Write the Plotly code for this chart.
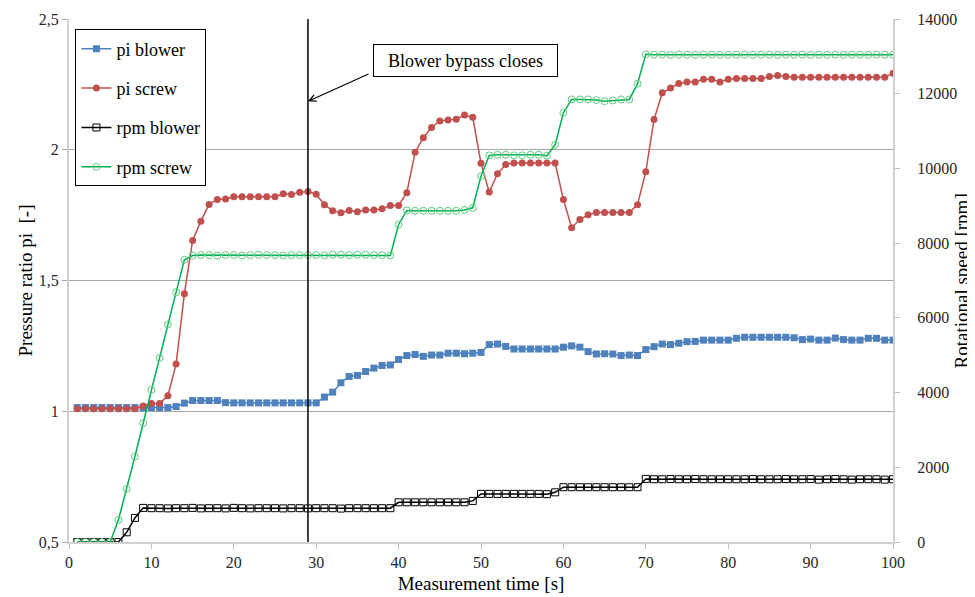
import plotly.graph_objects as go

# ---------------- data ----------------
time_s = list(range(1, 101))

pi_blower = [
    1.014, 1.014, 1.014, 1.014, 1.014, 1.014, 1.014, 1.014, 1.014, 1.014,   # 1-10
    1.014, 1.014, 1.018, 1.031, 1.041, 1.041, 1.041, 1.041, 1.033, 1.032,   # 11-20
    1.032, 1.032, 1.032, 1.032, 1.032, 1.032, 1.032, 1.032, 1.032, 1.032,   # 21-30
    1.054, 1.073, 1.109, 1.133, 1.137, 1.152, 1.165, 1.175, 1.177, 1.198,   # 31-40
    1.213, 1.217, 1.210, 1.215, 1.215, 1.222, 1.222, 1.220, 1.222, 1.225,   # 41-50
    1.255, 1.257, 1.248, 1.238, 1.238, 1.238, 1.238, 1.238, 1.238, 1.245,   # 51-60
    1.250, 1.245, 1.228, 1.219, 1.220, 1.219, 1.213, 1.215, 1.213, 1.236,   # 61-70
    1.247, 1.257, 1.255, 1.260, 1.266, 1.267, 1.272, 1.272, 1.272, 1.272,   # 71-80
    1.279, 1.283, 1.283, 1.283, 1.283, 1.283, 1.283, 1.281, 1.274, 1.276,   # 81-90
    1.272, 1.272, 1.280, 1.274, 1.272, 1.272, 1.279, 1.279, 1.272, 1.272,   # 91-100
]

pi_screw = [
    1.010, 1.010, 1.010, 1.010, 1.010, 1.010, 1.010, 1.010, 1.020, 1.030,   # 1-10
    1.030, 1.059, 1.181, 1.449, 1.653, 1.727, 1.791, 1.810, 1.812, 1.820,   # 11-20
    1.820, 1.820, 1.820, 1.820, 1.820, 1.832, 1.829, 1.837, 1.840, 1.830,   # 21-30
    1.790, 1.767, 1.759, 1.768, 1.763, 1.770, 1.770, 1.774, 1.787, 1.787,   # 31-40
    1.836, 1.990, 2.046, 2.085, 2.110, 2.114, 2.117, 2.133, 2.124, 1.948,   # 41-50
    1.838, 1.908, 1.944, 1.949, 1.949, 1.949, 1.949, 1.949, 1.949, 1.810,   # 51-60
    1.702, 1.733, 1.751, 1.760, 1.760, 1.760, 1.760, 1.760, 1.790, 1.916,   # 61-70
    2.116, 2.218, 2.236, 2.253, 2.259, 2.259, 2.270, 2.270, 2.259, 2.270,   # 71-80
    2.272, 2.272, 2.272, 2.272, 2.280, 2.284, 2.280, 2.277, 2.277, 2.277,   # 81-90
    2.277, 2.277, 2.277, 2.277, 2.277, 2.277, 2.277, 2.277, 2.277, 2.293,   # 91-100
]

rpm_blower = [
    0, 0, 0, 0, 0, 0, 260, 645, 913, 905,                                   # 1-10
    905, 900, 905, 905, 913, 900, 905, 905, 900, 913,                       # 11-20
    905, 900, 905, 905, 905, 900, 905, 905, 900, 905,                       # 21-30
    905, 905, 895, 905, 905, 905, 905, 905, 905, 1063,                      # 31-40
    1063, 1063, 1063, 1063, 1063, 1063, 1063, 1063, 1100, 1288,             # 41-50
    1288, 1288, 1288, 1288, 1288, 1288, 1288, 1280, 1330, 1466,             # 51-60
    1466, 1466, 1466, 1466, 1466, 1466, 1466, 1466, 1466, 1689,             # 61-70
    1680, 1680, 1685, 1680, 1680, 1685, 1680, 1680, 1680, 1680,             # 71-80
    1680, 1680, 1685, 1680, 1680, 1680, 1685, 1680, 1680, 1685,             # 81-90
    1670, 1680, 1685, 1680, 1670, 1680, 1680, 1680, 1670, 1680,             # 91-100
]

rpm_screw = [
    0, 0, 0, 0, 0, 592, 1422, 2287, 3179, 4073,                             # 1-10
    4930, 5822, 6687, 7555, 7670, 7680, 7680, 7670, 7680, 7680,             # 11-20
    7670, 7680, 7690, 7680, 7680, 7670, 7680, 7680, 7680, 7680,             # 21-30
    7670, 7690, 7690, 7680, 7690, 7690, 7680, 7680, 7670, 8500,             # 31-40
    8875, 8866, 8866, 8866, 8866, 8866, 8866, 8890, 8947, 9794,             # 41-50
    10348, 10366, 10366, 10350, 10350, 10366, 10366, 10340, 10634, 11491,   # 51-60
    11847, 11847, 11847, 11830, 11800, 11820, 11847, 11847, 12268, 13055,   # 61-70
    13045, 13045, 13040, 13045, 13045, 13040, 13045, 13045, 13040, 13040,   # 71-80
    13045, 13045, 13040, 13045, 13045, 13040, 13045, 13040, 13045, 13040,   # 81-90
    13045, 13040, 13045, 13040, 13045, 13045, 13040, 13045, 13045, 13045,   # 91-100
]

x_ticks = [0, 10, 20, 30, 40, 50, 60, 70, 80, 90, 100]
y_ticks = [0.5, 1.0, 1.5, 2.0, 2.5]
y_tick_text = ["0,5", "1", "1,5", "2", "2,5"]
y2_ticks = [0, 2000, 4000, 6000, 8000, 10000, 12000, 14000]
y2_tick_text = ["0", "2000", "4000", "6000", "8000", "10000", "12000", "14000"]

event_time = 29
event_label = "Blower bypass closes"

# ---------------- figure ----------------
FONT = "Liberation Serif"
fig = go.Figure()

fig.add_trace(go.Scatter(
    x=time_s, y=pi_blower, name="pi blower", mode="lines+markers", legendgroup="a",
    line=dict(color="#4F81BD", width=1.5),
    marker=dict(symbol="square", size=7, color="#4F81BD"),
))
fig.add_trace(go.Scatter(
    x=time_s, y=pi_screw, name="pi screw", mode="lines+markers", legendgroup="b",
    line=dict(color="#C0504D", width=1.5),
    marker=dict(symbol="circle", size=7, color="#C0504D"),
))
fig.add_trace(go.Scatter(
    x=time_s, y=rpm_blower, name="rpm blower", mode="lines+markers", legendgroup="c",
    yaxis="y2",
    line=dict(color="#000000", width=1.5),
    marker=dict(symbol="square-open", size=7, color="#000000", line=dict(width=1)),
))
fig.add_trace(go.Scatter(
    x=time_s, y=rpm_screw, name="rpm screw", mode="lines+markers", legendgroup="d",
    yaxis="y2",
    line=dict(color="#00B050", width=1.5),
    marker=dict(symbol="circle-open", size=7, color="#5DCB7F", line=dict(width=1)),
))

fig.add_shape(type="line", xref="x", yref="paper", x0=event_time, x1=event_time,
              y0=0, y1=1, line=dict(color="#000000", width=1.5))

# arrow
fig.add_annotation(x=event_time, y=2.185, xref="x", yref="y", text="",
                   showarrow=True, ax=62, ay=-28, arrowhead=5, arrowsize=1.1,
                   arrowwidth=1.2, arrowcolor="#000000")
# label box
fig.add_annotation(x=48.1, y=2.341, xref="x", yref="y", text=event_label,
                   showarrow=False, font=dict(family=FONT, size=18, color="#000000"),
                   bgcolor="#FFFFFF", bordercolor="#000000", borderwidth=1,
                   borderpad=3, width=177, height=25)

# right axis title
fig.add_annotation(x=1.0837, y=0.5, xref="paper", yref="paper",
                   text="Rotational speed [rpm]", textangle=-90, showarrow=False,
                   xanchor="center", yanchor="middle",
                   font=dict(family=FONT, size=19, color="#000000"))

# the page body adds an 8px offset at the left and top
fig.update_layout(
    template="none",
    width=967, height=589,
    margin=dict(l=61, r=82, t=11, b=55, autoexpand=False),
    paper_bgcolor="#FFFFFF", plot_bgcolor="#FFFFFF",
    font=dict(family=FONT, size=16, color="#000000"),
    showlegend=True,
    legend=dict(
        x=0.0078, y=0.98, xanchor="left", yanchor="top",
        bordercolor="#000000", borderwidth=1, bgcolor="#FFFFFF",
        font=dict(family=FONT, size=18, color="#000000"),
        traceorder="grouped", tracegroupgap=13,
    ),
    xaxis=dict(
        range=[0, 100], tickvals=x_ticks, ticks="outside", ticklen=5,
        tickcolor="#BFBFBF", showline=True, linecolor="#D0D0D0", linewidth=2,
        showgrid=False, zeroline=False, automargin=False,
        tickfont=dict(family=FONT, size=16, color="#262626"),
        title=dict(text="Measurement time [s]", standoff=6,
                   font=dict(family=FONT, size=19, color="#000000")),
    ),
    yaxis=dict(
        range=[0.5, 2.5], tickvals=y_ticks, ticktext=y_tick_text,
        ticks="outside", ticklen=5, tickcolor="#A6A6A6",
        showline=True, linecolor="#D0D0D0", linewidth=2,
        showgrid=True, gridcolor="#A6A6A6", gridwidth=1, zeroline=False,
        automargin=False,
        tickfont=dict(family=FONT, size=16, color="#262626"),
        title=dict(text="Pressure ratio pi \u00a0[-]", standoff=1,
                   font=dict(family=FONT, size=19, color="#000000")),
    ),
    yaxis2=dict(
        range=[0, 14000], tickvals=y2_ticks, ticktext=y2_tick_text,
        overlaying="y", side="right",
        ticks="outside", ticklen=5, tickcolor="#BFBFBF",
        showline=True, linecolor="#D0D0D0", linewidth=2,
        showgrid=False, zeroline=False, automargin=False,
        ticklabelstandoff=14,
        tickfont=dict(family=FONT, size=16, color="#262626"),
    ),
)

fig.write_html("out.html")
